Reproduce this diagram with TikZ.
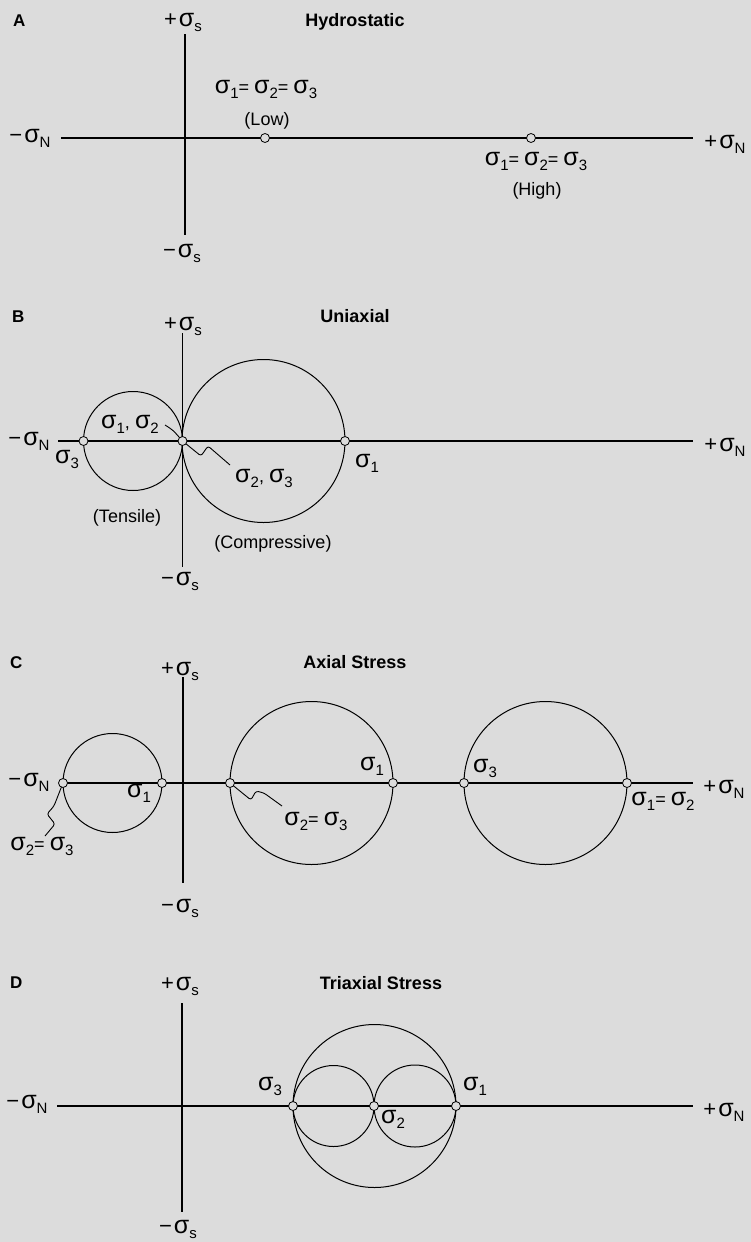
\documentclass[tikz,border=0pt]{standalone}
\usepackage{fontspec}
\setmainfont{Liberation Sans}
\definecolor{bg}{RGB}{220,220,220}
\newcommand{\sg}{{\fontsize{25}{25}\selectfont σ}}
\newcommand{\sbs}[1]{\raisebox{-5pt}{\fontsize{15}{15}\selectfont #1}}
\newcommand{\Sg}[1]{\sg\sbs{#1}}
\newcommand{\pls}{{\fontsize{22}{22}\selectfont +}}
\newcommand{\mns}{{\fontsize{22}{22}\selectfont −}}
\newcommand{\PS}{\pls\kern2pt\Sg{s}}
\newcommand{\MS}{\mns\kern2pt\Sg{s}}
\newcommand{\PN}{\pls\kern2pt\Sg{N}}
\newcommand{\MN}{\mns\kern2pt\Sg{N}}
\begin{document}
\begin{tikzpicture}[x=1pt,y=-1pt,
 lbl/.style={anchor=base,inner sep=0pt,font=\fontsize{18}{18}\selectfont},
 ttl/.style={anchor=base,inner sep=0pt,font=\fontsize{18}{18}\selectfont\bfseries},
 plet/.style={anchor=base west,inner sep=0pt,font=\fontsize{17}{17}\selectfont\bfseries},
 axisline/.style={line width=1.5pt},
 mohr/.style={line width=1pt},
 pt/.style={circle,draw,fill=bg,line width=0.8pt,inner sep=0pt,minimum size=9pt},
 lead/.style={line width=0.9pt,rounded corners=2.5pt}]
\fill[bg] (0,0) rectangle (751,1242);
\useasboundingbox (0,0) rectangle (751,1242);

% ---------------- Panel A ----------------
\node[plet] (letA) at (13,26) {A};
\node[ttl] (ttlA) at (355,27) {Hydrostatic};
\coordinate (aL) at (61,138); \coordinate (aR) at (693,138);
\coordinate (aT) at (185,34); \coordinate (aB) at (185,235);
\draw[axisline] (aL) -- (aR);
\draw[axisline] (aT) -- (aB);
\node[lbl] (aPS) at (183,27) {\PS};
\node[lbl] (aMS) at (182,257) {\MS};
\node[lbl] (aMN) at (30,142) {\MN};
\node[lbl] (aPN) at (725,148) {\PN};
\node[pt] (aLow) at (265,138) {};
\node[pt] (aHigh) at (531,138) {};
\node[lbl] (aLowT) at (266,93) {\Sg{1}= \Sg{2}= \Sg{3}};
\node[lbl] (aLowL) at (267,125) {(Low)};
\node[lbl] (aHighT) at (536,165) {\Sg{1}= \Sg{2}= \Sg{3}};
\node[lbl] (aHighL) at (537,195) {(High)};

% ---------------- Panel B ----------------
\node[plet] (letB) at (12,322) {B};
\node[ttl] (ttlB) at (355,322) {Uniaxial};
\coordinate (bL) at (58,441); \coordinate (bR) at (693,441);
\coordinate (bT) at (182.5,333); \coordinate (bB) at (182.5,567);
\draw[axisline] (bL) -- (bR);
\draw[axisline] (bT) -- (bB);
\draw[mohr] (133,441) circle[radius=49.5pt];
\draw[mohr] (263.5,441) circle[radius=81.5pt];
\node[lbl] (bPS) at (183,330) {\PS};
\node[lbl] (bMS) at (180,585) {\MS};
\node[lbl] (bMN) at (29,445) {\MN};
\node[lbl] (bPN) at (725,451) {\PN};
\coordinate (bl1) at (165,425);
\coordinate (bl2) at (230,465);
\draw[lead] (bl1) .. controls (173,430) .. (182.5,441);
\draw[lead] (182.5,441) -- (201,456) -- (208,446) -- (bl2);
\node[pt] (bP3) at (83.5,441) {};
\node[pt] (bP0) at (182.5,441) {};
\node[pt] (bP1) at (345,441) {};
\node[lbl] (bS3) at (67,463) {\Sg{3}};
\node[lbl] (bS12) at (130,428) {\Sg{1}, \Sg{2}};
\node[lbl] (bS23) at (264,482) {\Sg{2}, \Sg{3}};
\node[lbl] (bS1) at (367,467) {\Sg{1}};
\node[lbl] (bTen) at (127,522) {(Tensile)};
\node[lbl] (bCom) at (273,548) {(Compressive)};

% ---------------- Panel C ----------------
\node[plet] (letC) at (10,668) {C};
\node[ttl] (ttlC) at (355,668) {Axial Stress};
\coordinate (cL) at (60,783); \coordinate (cR) at (693,783);
\coordinate (cT) at (183,677); \coordinate (cB) at (183,883);
\draw[axisline] (cL) -- (cR);
\draw[axisline] (cT) -- (cB);
\draw[mohr] (112.5,783) circle[radius=49.5pt];
\draw[mohr] (311.5,783) circle[radius=81.5pt];
\draw[mohr] (545.5,783) circle[radius=81.5pt];
\node[lbl] (cPS) at (180,675) {\PS};
\node[lbl] (cMS) at (180,912) {\MS};
\node[lbl] (cMN) at (29,786) {\MN};
\node[lbl] (cPN) at (724,793) {\PN};
\coordinate (cl1) at (45,836);
\coordinate (cl2) at (282,806);
\draw[lead] (63,783) -- (54,806) -- (47,814) -- (55,824) -- (cl1);
\draw[lead] (230,783) -- (251,800) -- (256,791) -- (264,793) -- (cl2);
\node[pt] (cP1) at (63,783) {};
\node[pt] (cP2) at (162,783) {};
\node[pt] (cP3) at (230,783) {};
\node[pt] (cP4) at (393,783) {};
\node[pt] (cP5) at (464,783) {};
\node[pt] (cP6) at (627,783) {};
\node[lbl] (cS1a) at (139,797) {\Sg{1}};
\node[lbl] (cS23a) at (42,850) {\Sg{2}= \Sg{3}};
\node[lbl] (cS23b) at (316,825) {\Sg{2}= \Sg{3}};
\node[lbl] (cS1b) at (372,770) {\Sg{1}};
\node[lbl] (cS3c) at (485,772) {\Sg{3}};
\node[lbl] (cS12c) at (663,805) {\Sg{1}= \Sg{2}};

% ---------------- Panel D ----------------
\node[plet] (letD) at (10,988) {D};
\node[ttl] (ttlD) at (381,989) {Triaxial Stress};
\coordinate (dL) at (57,1106); \coordinate (dR) at (693,1106);
\coordinate (dT) at (182,1003); \coordinate (dB) at (182,1212);
\draw[axisline] (dL) -- (dR);
\draw[axisline] (dT) -- (dB);
\draw[mohr] (374.5,1106) circle[radius=81.5pt];
\draw[mohr] (333.5,1106) circle[radius=40.5pt];
\draw[mohr] (415,1106) circle[radius=41pt];
\node[lbl] (dPS) at (180,990) {\PS};
\node[lbl] (dMS) at (178,1233) {\MS};
\node[lbl] (dMN) at (27,1108) {\MN};
\node[lbl] (dPN) at (724,1116) {\PN};
\node[pt] (dP3) at (293,1106) {};
\node[pt] (dP2) at (374,1106) {};
\node[pt] (dP1) at (456,1106) {};
\node[lbl] (dS3) at (270,1090) {\Sg{3}};
\node[lbl] (dS1) at (475,1090) {\Sg{1}};
\node[lbl] (dS2) at (393,1123) {\Sg{2}};
\end{tikzpicture}
\end{document}
